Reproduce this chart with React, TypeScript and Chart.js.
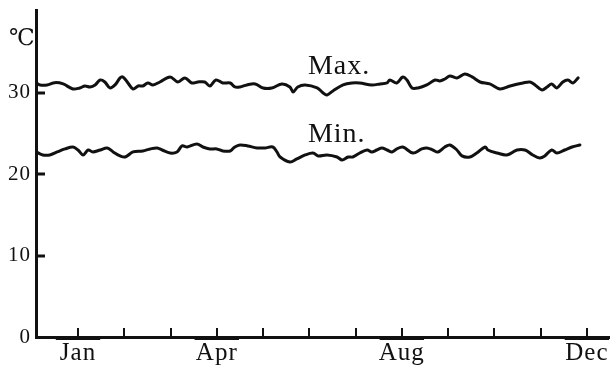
import React, { useEffect, useRef } from "react";
import { Chart, registerables } from "chart.js";

Chart.register(...registerables);

// ---- data ----
const monthTicks = [1, 2, 3, 4, 5, 6, 7, 8, 9, 10, 11, 12];
const tickLabels = ["Jan", "", "", "Apr", "", "", "", "Aug", "", "", "", "Dec"];
const yTicks = [0, 10, 20, 30];
const unitLabel = "℃";
const seriesNames = ["Max.", "Min."];

const maxMonths = [
  0.1, 0.18, 0.33, 0.5, 0.68, 0.89, 1.04, 1.15, 1.26, 1.37, 1.48, 1.58, 1.69, 1.8, 1.91, 1.97,
  2.08, 2.19, 2.3, 2.4, 2.51, 2.62, 2.77, 2.99, 3.16, 3.31, 3.46, 3.59, 3.74, 3.85, 3.98, 4.13,
  4.29, 4.39, 4.5, 4.65, 4.83, 5.0, 5.19, 5.41, 5.58, 5.65, 5.75, 5.91, 6.17, 6.3, 6.38, 6.51,
  6.73, 6.92, 7.09, 7.35, 7.53, 7.68, 7.74, 7.89, 8.02, 8.11, 8.22, 8.35, 8.54, 8.72, 8.82, 8.93,
  9.04, 9.19, 9.36, 9.52, 9.69, 9.9, 10.12, 10.34, 10.62, 10.77, 10.88, 11.03, 11.14, 11.24, 11.35,
  11.48, 11.59, 11.7, 11.81,
];
const maxTemps = [
  31.23, 30.99, 30.99, 31.27, 31.11, 30.49, 30.62, 30.86, 30.74, 30.99, 31.6, 31.35, 30.62, 30.99, 31.85, 31.97,
  31.23, 30.49, 30.86, 30.86, 31.23, 30.99, 31.35, 31.97, 31.35, 31.85, 31.23, 31.35, 31.35, 30.86, 31.6, 31.23,
  31.23, 30.74, 30.74, 30.99, 31.11, 30.62, 30.62, 31.11, 30.74, 30.12, 30.74, 30.99, 30.62, 30.0, 29.76, 30.25,
  30.99, 31.23, 31.23, 30.99, 31.11, 31.23, 31.6, 31.23, 31.97, 31.6, 30.62, 30.62, 30.99, 31.6, 31.48, 31.72,
  32.09, 31.85, 32.34, 31.97, 31.35, 31.11, 30.49, 30.86, 31.23, 31.35, 30.99, 30.37, 30.74, 31.11, 30.62,
  31.35, 31.6, 31.23, 31.85,
];

const minMonths = [
  0.1, 0.24, 0.39, 0.55, 0.72, 0.89, 1.0, 1.11, 1.22, 1.32, 1.48, 1.63, 1.76, 1.91, 2.02, 2.19,
  2.4, 2.56, 2.71, 2.82, 2.99, 3.14, 3.25, 3.36, 3.57, 3.7, 3.85, 4.0, 4.13, 4.29, 4.39, 4.5,
  4.67, 4.87, 5.04, 5.21, 5.3, 5.37, 5.58, 5.73, 5.91, 6.08, 6.19, 6.38, 6.6, 6.71, 6.84, 6.94,
  7.09, 7.25, 7.35, 7.46, 7.57, 7.68, 7.79, 7.89, 8.02, 8.24, 8.43, 8.54, 8.67, 8.78, 8.93, 9.04,
  9.19, 9.3, 9.47, 9.62, 9.8, 9.86, 10.06, 10.27, 10.49, 10.66, 10.83, 10.98, 11.09, 11.24, 11.35,
  11.52, 11.68, 11.85,
];
const minTemps = [
  22.75, 22.38, 22.38, 22.75, 23.12, 23.36, 22.99, 22.38, 22.99, 22.75, 22.99, 23.24, 22.75, 22.26, 22.13, 22.75,
  22.87, 23.12, 23.24, 22.99, 22.62, 22.75, 23.49, 23.36, 23.73, 23.36, 23.12, 23.12, 22.87, 22.87, 23.36, 23.61,
  23.49, 23.24, 23.24, 23.36, 22.75, 22.13, 21.52, 21.89, 22.38, 22.62, 22.26, 22.38, 22.13, 21.76, 22.13, 22.13,
  22.62, 22.99, 22.75, 22.99, 23.24, 22.99, 22.75, 23.12, 23.36, 22.62, 23.12, 23.24, 22.99, 22.75, 23.36, 23.61,
  22.99, 22.26, 22.13, 22.62, 23.36, 22.99, 22.62, 22.38, 22.99, 22.99, 22.38, 22.01, 22.26, 22.99, 22.62,
  22.99, 23.36, 23.61,
];

// label anchors (data units)
const nameMonth = 5.97;
const nameTemps = [32.34, 23.98];

// axis ranges
const xMin = 0.092;
const xMax = 12.5;
const yMin = 0;
const yMax = 40.2;

const INK = "#111111";
const SERIF = "'Liberation Serif', 'DejaVu Serif', serif";

const decor = {
  id: "decor",
  beforeDraw(chart: any) {
    chart.ctx.letterSpacing = "1px";
  },
  afterDraw(chart: any) {
    const { ctx, chartArea, scales } = chart;
    const xs = scales.x;
    const ys = scales.y;
    ctx.save();
    ctx.strokeStyle = INK;
    ctx.lineCap = "butt";
    // inward x ticks
    ctx.lineWidth = 2;
    monthTicks.forEach((m) => {
      const px = Math.round(xs.getPixelForValue(m));
      ctx.beginPath();
      ctx.moveTo(px, chartArea.bottom);
      ctx.lineTo(px, chartArea.bottom - 9);
      ctx.stroke();
    });
    // inward y ticks
    ctx.lineWidth = 3;
    yTicks.forEach((v) => {
      if (v === 0) return;
      const py = Math.round(ys.getPixelForValue(v));
      ctx.beginPath();
      ctx.moveTo(chartArea.left, py);
      ctx.lineTo(chartArea.left + 9, py);
      ctx.stroke();
    });
    // emphasised month segments under labelled months
    ctx.lineWidth = 2;
    monthTicks.forEach((m, i) => {
      if (!tickLabels[i]) return;
      ctx.beginPath();
      ctx.moveTo(xs.getPixelForValue(m - 0.48), chartArea.bottom + 2);
      ctx.lineTo(xs.getPixelForValue(m + 0.48), chartArea.bottom + 2);
      ctx.stroke();
    });
    // series names
    ctx.fillStyle = INK;
    ctx.letterSpacing = "1px";
    ctx.font = `28px ${SERIF}`;
    ctx.textAlign = "left";
    ctx.textBaseline = "alphabetic";
    seriesNames.forEach((name, i) => {
      ctx.fillText(name, xs.getPixelForValue(nameMonth), ys.getPixelForValue(nameTemps[i]));
    });
    // unit
    ctx.letterSpacing = "0px";
    ctx.font = `23px 'DejaVu Serif', 'Noto Sans CJK JP', serif`;
    ctx.textBaseline = "middle";
    ctx.fillText(unitLabel, chartArea.left - 27, chartArea.top + 29);
    ctx.restore();
  },
};

export default function App() {
  const ref = useRef<HTMLCanvasElement | null>(null);

  useEffect(() => {
    if (!ref.current) return;
    const lineStyle = {
      borderColor: INK,
      borderWidth: 3,
      pointRadius: 0,
      tension: 0.35,
      borderJoinStyle: "round" as const,
      borderCapStyle: "round" as const,
      fill: false,
    };
    const chart = new Chart(ref.current, {
      type: "line",
      data: {
        datasets: [
          {
            label: seriesNames[0],
            data: maxMonths.map((m, i) => ({ x: m, y: maxTemps[i] })),
            ...lineStyle,
          },
          {
            label: seriesNames[1],
            data: minMonths.map((m, i) => ({ x: m, y: minTemps[i] })),
            ...lineStyle,
          },
        ],
      },
      options: {
        animation: false,
        responsive: false,
        devicePixelRatio: 1,
        layout: { padding: { left: 0, right: 0, top: 10, bottom: 0 } },
        plugins: {
          legend: { display: false },
          tooltip: { enabled: false },
        },
        scales: {
          x: {
            type: "linear",
            min: xMin,
            max: xMax,
            grid: { display: false, drawTicks: false },
            border: { display: true, color: INK, width: 3 },
            afterBuildTicks: (scale: any) => {
              scale.ticks = monthTicks.map((v) => ({ value: v }));
            },
            afterFit: (scale: any) => {
              scale.height = 33;
              scale.paddingLeft = 0;
              scale.paddingRight = 0;
            },
            ticks: {
              autoSkip: false,
              maxRotation: 0,
              minRotation: 0,
              padding: 1,
              color: INK,
              font: { family: SERIF, size: 25 },
              callback: (value: any) => {
                const i = monthTicks.indexOf(Number(value));
                return i >= 0 ? tickLabels[i] : "";
              },
            },
          },
          y: {
            type: "linear",
            min: yMin,
            max: yMax,
            grid: { display: false, drawTicks: false },
            border: { display: true, color: INK, width: 3 },
            afterBuildTicks: (scale: any) => {
              scale.ticks = yTicks.map((v) => ({ value: v }));
            },
            afterFit: (scale: any) => {
              scale.width = 36;
              scale.paddingTop = 0;
              scale.paddingBottom = 0;
            },
            ticks: {
              padding: 5,
              color: INK,
              font: { family: SERIF, size: 21 },
            },
          },
        },
      },
      plugins: [decor],
    });
    return () => chart.destroy();
  }, []);

  return (
    <div style={{ position: "fixed", left: 0, top: 0, width: 610, height: 370, background: "#fff" }}>
      <canvas ref={ref} width={610} height={370} style={{ display: "block" }} />
    </div>
  );
}
